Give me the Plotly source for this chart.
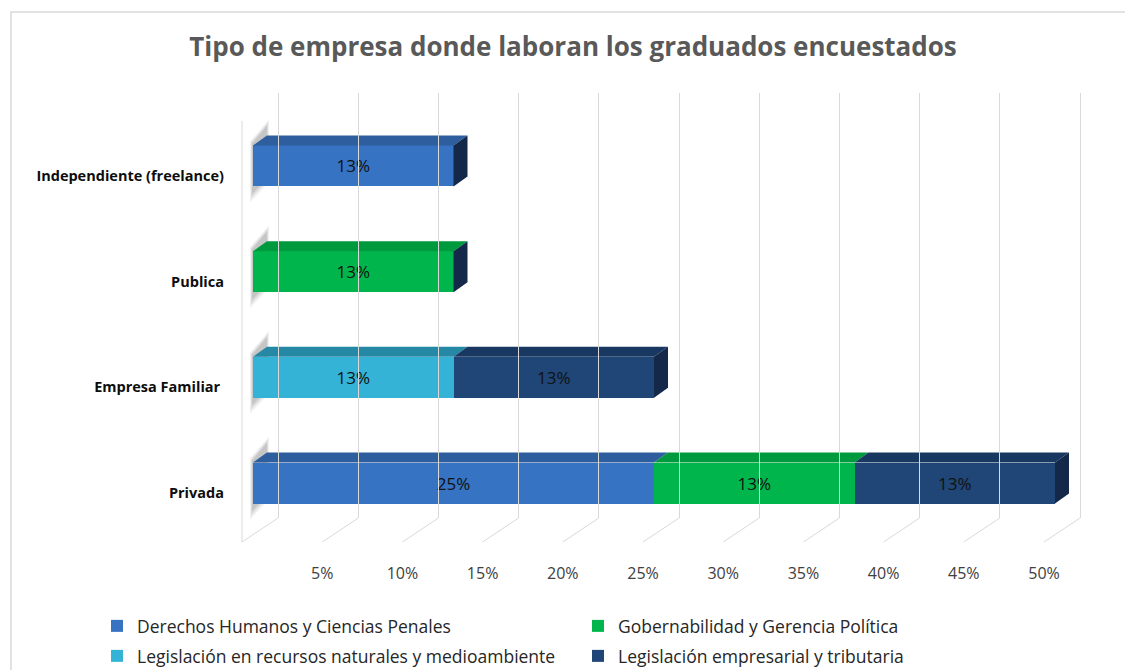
import plotly.graph_objects as go

# ---------------- data ----------------
categories = ["Privada", "Empresa Familiar\u00a0", "Publica", "Independiente (freelance)"]
series_names = [
    "Derechos Humanos y Ciencias Penales",
    "Gobernabilidad y Gerencia Política",
    "Legislación en recursos naturales y medioambiente",
    "Legislación empresarial y tributaria",
]
derechos = [25, None, None, 12.5]
gobernabilidad = [12.5, None, 12.5, None]
recursos = [None, 12.5, None, None]
empresarial = [12.5, 12.5, None, None]
x_ticks = [5, 10, 15, 20, 25, 30, 35, 40, 45, 50]
x_tick_text = ["5%", "10%", "15%", "20%", "25%", "30%", "35%", "40%", "45%", "50%"]
title_text = "Tipo de empresa donde laboran los graduados encuestados"

# ---------------- styling ----------------
W, H = 1125, 670
S = 16.04          # px per percent
CAT = 105.67       # px per category
BAR_W = 0.388
DX = 14 / S        # depth offset (data units)
DY = 10 / CAT
front_colors = ["#3673c2", "#00b64c", "#35b3d6", "#1f4676"]
top_colors = ["#2e5e9e", "#009a3e", "#2588a5", "#183862"]
end_color = "#14294a"
FONT = "Open Sans"

def fx(px):
    return px / W

def fy(px):
    return 1 - px / H

values = [derechos, gobernabilidad, recursos, empresarial]
yidx = list(range(len(categories)))

fig = go.Figure()

# front faces
for i, (name, vals) in enumerate(zip(series_names, values)):
    fig.add_trace(go.Bar(
        y=yidx, x=vals, name=name, orientation="h", width=BAR_W,
        marker=dict(color=front_colors[i], line=dict(width=0)),
        texttemplate="%{x:.0f}%", textposition="inside", insidetextanchor="middle",
        textfont=dict(family=FONT, size=17, color="#111111"),
        legend="legend" if i < 2 else "legend2",
        hovertemplate="%{x}%<extra>" + name + "</extra>",
    ))

# top faces and end faces (3D effect)
top_x = {i: [] for i in range(4)}
top_y = {i: [] for i in range(4)}
end_x, end_y = [], []
shapes = []
for c in yidx:
    base = 0.0
    yt = c + BAR_W / 2
    yb = c - BAR_W / 2
    last = None
    for i, vals in enumerate(values):
        v = vals[c]
        if v is None:
            continue
        x0, x1 = base, base + v
        top_x[i] += [x0, x1, x1 + DX, x0 + DX, x0, None]
        top_y[i] += [yt, yt, yt + DY, yt + DY, yt, None]
        base = x1
        last = x1
    if last is not None:
        end_x += [last, last + DX, last + DX, last, last, None]
        end_y += [yb, yb + DY, yt + DY, yt, yb, None]
    # soft shadow on the side wall
    for k, op in enumerate([0.06, 0.08, 0.10]):
        a = -3 / S + k * 1 / S
        b = 16 / S - k * 1 / S
        p = (f"M {a},{yb - (16 - 4*k) / CAT} L {a},{yt + (4 - k) / CAT} "
             f"L {b},{yt + (26 - 3*k) / CAT} L {b},{yb + (4 + 2*k) / CAT} Z")
        shapes.append(dict(type="path", xref="x", yref="y", path=p,
                           fillcolor=f"rgba(0,0,0,{op})", line=dict(width=0), layer="below"))

for i in range(4):
    fig.add_trace(go.Scatter(x=top_x[i], y=top_y[i], fill="toself", mode="lines",
                             line=dict(width=0), fillcolor=top_colors[i],
                             showlegend=False, hoverinfo="skip"))
fig.add_trace(go.Scatter(x=end_x, y=end_y, fill="toself", mode="lines",
                         line=dict(width=0), fillcolor=end_color,
                         showlegend=False, hoverinfo="skip"))

# floor diagonals and left wall edge
grid_vals = [0] + x_ticks
FRONT_SHIFT = 36 / S
for t in grid_vals:
    shapes.append(dict(type="line", xref="x2", yref="paper",
                       x0=t, y0=fy(518), x1=t - FRONT_SHIFT, y1=fy(542),
                       line=dict(color="#d9d9d9", width=1), layer="below"))
shapes.append(dict(type="line", xref="x2", yref="paper",
                   x0=-FRONT_SHIFT, y0=fy(121), x1=-FRONT_SHIFT, y1=fy(542),
                   line=dict(color="#d9d9d9", width=1), layer="below"))
# chart border
shapes.append(dict(type="rect", xref="paper", yref="paper",
                   x0=fx(11), y0=fy(12), x1=fx(1135), y1=fy(690),
                   line=dict(color="#d9d9d9", width=1.5), fillcolor="rgba(0,0,0,0)",
                   layer="below"))

y_lo = (483 - 545) / CAT
y_hi = (483 - 93) / CAT

legend_common = dict(orientation="h", xanchor="left", yanchor="middle",
                     entrywidth=436, entrywidthmode="pixels", traceorder="normal",
                     font=dict(family=FONT, size=17.5, color="#262626"),
                     bgcolor="rgba(0,0,0,0)")

fig.update_layout(
    width=W, height=H,
    margin=dict(l=0, r=0, t=0, b=0, autoexpand=False),
    paper_bgcolor="white", plot_bgcolor="rgba(0,0,0,0)",
    barmode="stack",
    shapes=shapes,
    title=dict(text=title_text, x=fx(573), y=fy(47), xanchor="center", yanchor="middle",
               font=dict(family=FONT, size=26, color="#595959", weight="bold")),
    xaxis=dict(domain=[fx(253 - S), fx(253 + 51 * S)], range=[-1, 51],
               tickvals=x_ticks, ticktext=x_tick_text, showgrid=False, zeroline=False,
               showline=False, ticks="", ticklabelshift=-11, ticklabelstandoff=17,
               tickfont=dict(family=FONT, size=16, color="#404040"), anchor="y"),
    yaxis=dict(domain=[fy(545), fy(93)], range=[y_lo, y_hi],
               tickvals=yidx, ticktext=categories, showgrid=False, zeroline=False,
               showline=False, ticks="", ticklabelstandoff=12, ticklabelshift=10,
               tickfont=dict(family=FONT, size=14.5, color="#0d0d0d", weight="bold"),
               anchor="x"),
    xaxis2=dict(domain=[fx(278 - 3 * S), fx(278 + 51 * S)], range=[-3, 51],
                tickvals=grid_vals, showticklabels=False, showgrid=True,
                gridcolor="#d9d9d9", gridwidth=1, zeroline=False, showline=False,
                ticks="", anchor="y2"),
    yaxis2=dict(domain=[fy(518), fy(93)], range=[0, 1], visible=False, anchor="x2"),
    legend=dict(x=fx(97), y=fy(626), **legend_common),
    legend2=dict(x=fx(97), y=fy(656), **legend_common),
    showlegend=True,
)

fig.write_html("out.html", config={"displayModeBar": False},
               post_script="document.body.style.margin='0px';")
